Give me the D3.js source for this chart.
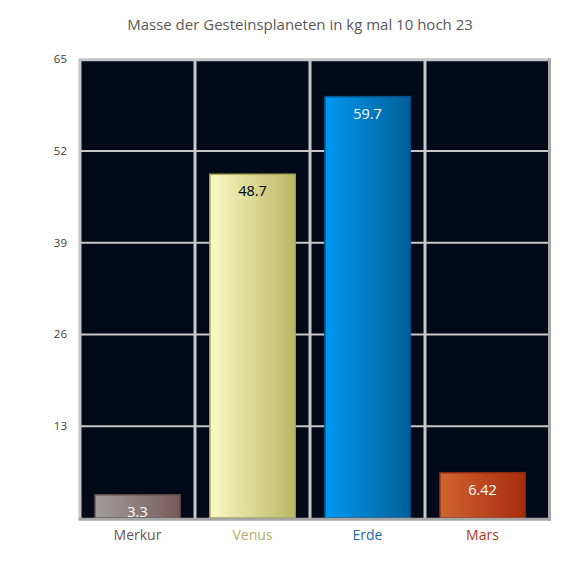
<!DOCTYPE html>
<html><head><meta charset="utf-8">
<script src="https://cdn.jsdelivr.net/npm/d3@7"></script>
<style>body{margin:0;background:#fff}</style>
</head><body>
<script>
const categories = ["Merkur", "Venus", "Erde", "Mars"];
const values = [3.3, 48.7, 59.7, 6.42];
const valueLabels = ["3.3", "48.7", "59.7", "6.42"];
const yTicks = [13, 26, 39, 52, 65];
const title = "Masse der Gesteinsplaneten in kg mal 10 hoch 23";

const colors = [
  {c0:"#a09e9c", c1:"#775a5a", stroke:"#5e4646", label:"#fff", cat:"#6b5757"},
  {c0:"#fafac4", c1:"#b9b764", stroke:"#aaa850", label:"#000", cat:"#b2b06a"},
  {c0:"#0098f2", c1:"#045f98", stroke:"#03528a", label:"#fff", cat:"#1e6aa8"},
  {c0:"#d0642f", c1:"#a82c0e", stroke:"#8c2a10", label:"#fff", cat:"#b0361a"}
];

const W = 570, H = 570;
const svg = d3.select("body").append("svg").attr("width", W).attr("height", H);
const font = "'Open Sans', sans-serif";

const pL = 80, pR = 549, pT = 59.2, pB = 518;
const x = d3.scaleBand().domain(categories).range([pL, pL + 115*4]).paddingInner(0.25).paddingOuter(0.125);
const y = d3.scaleLinear().domain([0, 65]).range([pB, pT]);

const defs = svg.append("defs");
colors.forEach((c, i) => {
  const g = defs.append("linearGradient").attr("id", "g"+i).attr("x1","0").attr("x2","1").attr("y1","0").attr("y2","0");
  g.append("stop").attr("offset","0").attr("stop-color", c.c0);
  g.append("stop").attr("offset","1").attr("stop-color", c.c1);
});

svg.append("text").attr("x", 300).attr("y", 30).attr("text-anchor","middle")
  .attr("font-family", font).attr("font-size", 15).attr("fill","#595959").text(title);

svg.append("rect").attr("x", pL).attr("y", pT).attr("width", pR-pL).attr("height", pB-pT+1).attr("fill","#020919");

svg.append("g").selectAll("line").data(yTicks.slice(0,-1)).join("line")
  .attr("x1", pL).attr("x2", pR).attr("y1", d=>y(d)).attr("y2", d=>y(d))
  .attr("stroke","#c8c8c8").attr("stroke-width",2);
svg.append("g").selectAll("line").data(categories.slice(1)).join("line")
  .attr("x1", d=>x(d)-x.step()*x.paddingInner()/2).attr("x2", d=>x(d)-x.step()*x.paddingInner()/2)
  .attr("y1", pT).attr("y2", pB)
  .attr("stroke","#c8c8c8").attr("stroke-width",3);

svg.append("g").selectAll("rect").data(values).join("rect")
  .attr("x", (d,i)=>x(categories[i])+0.5).attr("width", x.bandwidth()-1)
  .attr("y", d=>y(d)).attr("height", d=>y(0)-y(d))
  .attr("fill", (d,i)=>`url(#g${i})`).attr("stroke",(d,i)=>colors[i].stroke).attr("stroke-width",1.5);

svg.append("g").selectAll("text").data(values).join("text")
  .attr("x", (d,i)=>x(categories[i])+x.bandwidth()/2).attr("y", d=>y(d)+22)
  .attr("text-anchor","middle").attr("font-family", font).attr("font-size", 14.5)
  .attr("fill",(d,i)=>colors[i].label).text((d,i)=>valueLabels[i]);

svg.append("line").attr("x1",pL-1.5).attr("x2",pR).attr("y1",pT+0.5).attr("y2",pT+0.5).attr("stroke","#c4c4c4").attr("stroke-width",3);
svg.append("line").attr("x1",pL).attr("x2",pL).attr("y1",pT).attr("y2",pB+1).attr("stroke","#c4c4c4").attr("stroke-width",3);
svg.append("line").attr("x1",pR+0.5).attr("x2",pR+0.5).attr("y1",pT-1).attr("y2",pB+2.5).attr("stroke","#a6a6a6").attr("stroke-width",3);
svg.append("line").attr("x1",pL-1.5).attr("x2",pR+2).attr("y1",pB+1.2).attr("y2",pB+1.2).attr("stroke","#a6a6a6").attr("stroke-width",3);

svg.append("g").selectAll("text").data(yTicks).join("text")
  .attr("x", 67).attr("y", d=>y(d)+4).attr("text-anchor","end")
  .attr("font-family", font).attr("font-size", 11.5).attr("fill","#404040").text(d=>d);

svg.append("g").selectAll("text").data(categories).join("text")
  .attr("x", d=>x(d)+x.bandwidth()/2).attr("y", 540)
  .attr("text-anchor","middle").attr("font-family", font).attr("font-size", 14)
  .attr("fill",(d,i)=>colors[i].cat).text(d=>d);
</script>
</body></html>
